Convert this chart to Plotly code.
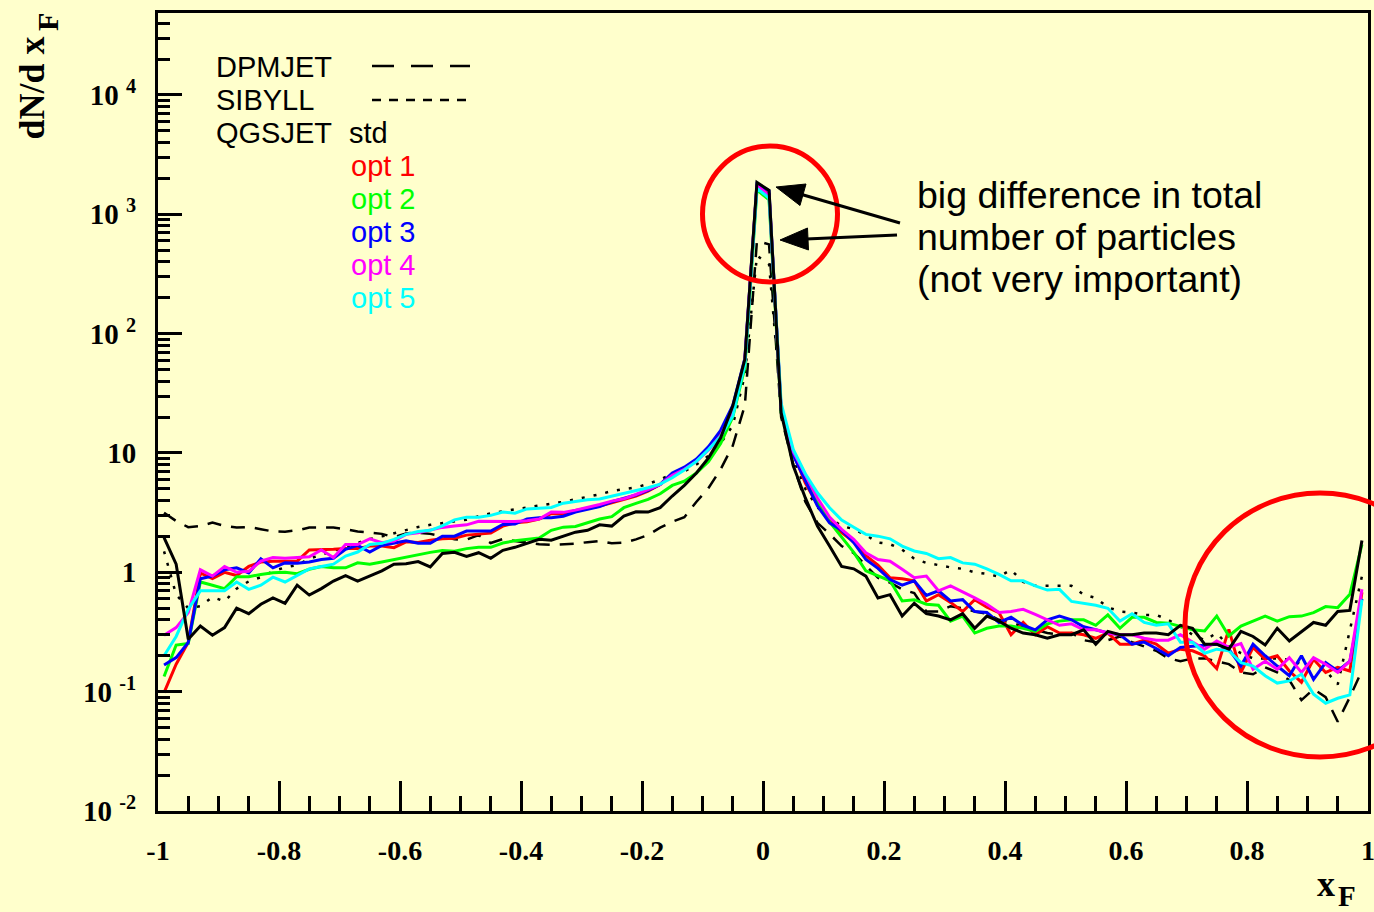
import numpy as np
import plotly.graph_objects as go

# ---------------- data (bin centres of x_F, 100 bins) ----------------
xF = np.round(np.linspace(-0.99, 0.99, 100), 2)

dpmjet = [3.16, 2.69, 2.39, 2.44, 2.61, 2.45, 2.37, 2.40, 2.30, 2.20,
          2.19, 2.25, 2.37, 2.37, 2.37, 2.30, 2.20, 2.15, 2.10, 1.97,
          2.12, 2.15, 2.10, 2.0, 1.89, 1.88, 2.05, 1.76, 1.9, 1.83,
          1.77, 1.72, 1.70, 1.71, 1.74, 1.79, 1.83, 1.75, 1.77, 1.89,
          2.05, 2.37, 2.65, 2.9, 3.9, 5.1, 7.3, 11.5, 25, 600,
          560, 20, 8.0, 3.9, 2.6, 2.1, 1.66, 1.45, 1.15, 0.90,
          0.82, 0.72, 0.67, 0.47, 0.47, 0.52, 0.50, 0.47, 0.45, 0.40,
          0.38, 0.35, 0.33, 0.31, 0.30, 0.31, 0.27, 0.26, 0.27, 0.29,
          0.26, 0.24, 0.22, 0.19, 0.18, 0.19, 0.19, 0.18, 0.17, 0.145,
          0.14, 0.16, 0.145, 0.125, 0.085, 0.105, 0.09, 0.056, 0.09, 0.15]

sibyll = [1.5, 0.65, 0.50, 0.52, 0.62, 0.57, 0.73, 0.84, 0.91, 1.02,
          1.10, 1.15, 1.3, 1.4, 1.5, 1.62, 1.75, 1.9, 2.0, 2.12,
          2.25, 2.4, 2.5, 2.58, 2.66, 2.76, 2.95, 3.12, 3.25, 3.37,
          3.52, 3.62, 3.75, 3.9, 4.1, 4.3, 4.5, 4.8, 5.0, 5.15,
          5.5, 6.0, 6.7, 7.0, 8.0, 9.5, 12, 17, 45, 450,
          380, 25, 9, 5.0, 3.5, 2.85, 2.45, 2.3, 2.05, 1.78,
          1.72, 1.55, 1.3, 1.2, 1.15, 1.1, 1.07, 1.0, 0.97, 0.92,
          1.05, 0.83, 0.77, 0.77, 0.77, 0.77, 0.65, 0.61, 0.51, 0.47,
          0.46, 0.44, 0.44, 0.40, 0.35, 0.30, 0.27, 0.31, 0.24, 0.21,
          0.19, 0.19, 0.19, 0.185, 0.17, 0.16, 0.15, 0.115, 0.32, 0.93]

qgs_std = [1.95, 1.17, 0.275, 0.355, 0.297, 0.344, 0.50, 0.45, 0.54, 0.61,
           0.55, 0.78, 0.645, 0.73, 0.845, 0.94, 0.845, 0.94, 1.03, 1.17,
           1.18, 1.23, 1.11, 1.44, 1.47, 1.36, 1.46, 1.31, 1.53, 1.62,
           1.76, 1.89, 1.86, 2.01, 2.17, 2.25, 2.5, 2.44, 2.96, 3.22,
           3.2, 3.48, 4.36, 5.35, 6.8, 9.1, 13.4, 24.7, 61, 1850,
           1590, 21.7, 7.8, 4.2, 2.44, 1.66, 1.12, 1.07, 0.93, 0.61,
           0.65, 0.43, 0.55, 0.45, 0.43, 0.40, 0.45, 0.34, 0.43, 0.39,
           0.34, 0.31, 0.30, 0.28, 0.30, 0.30, 0.33, 0.25, 0.32, 0.30,
           0.30, 0.31, 0.31, 0.30, 0.36, 0.34, 0.25, 0.25, 0.227, 0.32,
           0.29, 0.246, 0.34, 0.266, 0.32, 0.38, 0.36, 0.47, 0.48, 1.85]

qgs_opt1 = [0.098, 0.17, 0.26, 0.99, 0.885, 1.0, 0.94, 1.12, 1.22, 1.24,
            1.24, 1.24, 1.54, 1.54, 1.56, 1.58, 1.58, 1.66, 1.66, 1.61,
            1.80, 1.78, 1.86, 1.91, 1.93, 2.05, 2.1, 2.13, 2.44, 2.6,
            2.65, 2.8, 3.1, 3.1, 3.3, 3.45, 3.6, 3.83, 4.08, 4.35,
            4.79, 5.45, 6.6, 7.4, 8.6, 10.8, 14.5, 23, 58, 1750,
            1480, 23, 10.0, 5.6, 3.7, 2.7, 2.15, 1.8, 1.38, 1.15,
            0.9, 0.885, 0.85, 0.575, 0.65, 0.56, 0.47, 0.59, 0.51, 0.46,
            0.30, 0.38, 0.30, 0.35, 0.31, 0.31, 0.30, 0.28, 0.31, 0.25,
            0.25, 0.27, 0.25, 0.21, 0.227, 0.22, 0.20, 0.156, 0.333, 0.145,
            0.235, 0.187, 0.20, 0.149, 0.12, 0.187, 0.145, 0.16, 0.149, 0.68]

qgs_opt2 = [0.134, 0.246, 0.253, 0.83, 0.78, 0.73, 0.92, 0.92, 0.96, 0.99,
            1.0, 0.975, 1.06, 1.12, 1.09, 1.09, 1.20, 1.17, 1.22, 1.28,
            1.35, 1.40, 1.47, 1.52, 1.5, 1.58, 1.62, 1.62, 1.76, 1.84,
            1.9, 1.94, 2.25, 2.39, 2.42, 2.61, 2.8, 2.93, 3.48, 3.78,
            4.08, 4.55, 5.35, 5.8, 6.8, 8.5, 12, 20, 52, 1600,
            1320, 22, 10, 6.0, 3.9, 2.65, 1.98, 1.47, 1.03, 0.93,
            0.85, 0.575, 0.59, 0.54, 0.53, 0.39, 0.43, 0.31, 0.34, 0.355,
            0.355, 0.34, 0.32, 0.37, 0.39, 0.40, 0.40, 0.36, 0.44, 0.34,
            0.42, 0.42, 0.38, 0.375, 0.35, 0.33, 0.323, 0.43, 0.293, 0.355,
            0.39, 0.43, 0.39, 0.425, 0.43, 0.46, 0.516, 0.506, 0.655, 1.71]

qgs_opt3 = [0.167, 0.193, 0.258, 0.885, 0.93, 1.05, 1.09, 0.99, 1.30, 1.09,
            1.20, 1.19, 1.22, 1.28, 1.31, 1.56, 1.68, 1.48, 1.68, 1.77,
            1.84, 1.75, 1.75, 2.01, 2.01, 2.22, 2.22, 2.22, 2.52, 2.54,
            2.8, 2.87, 2.87, 2.95, 3.2, 3.37, 3.55, 3.9, 4.15, 4.45,
            4.85, 5.45, 6.8, 7.6, 8.9, 11.3, 15.5, 25, 62, 1800,
            1580, 23, 9.6, 5.8, 3.6, 2.6, 2.25, 1.77, 1.28, 1.08,
            0.87, 0.78, 0.85, 0.64, 0.70, 0.575, 0.59, 0.47, 0.46, 0.38,
            0.42, 0.36, 0.33, 0.40, 0.43, 0.40, 0.35, 0.33, 0.31, 0.30,
            0.25, 0.26, 0.23, 0.20, 0.235, 0.24, 0.245, 0.25, 0.227, 0.164,
            0.25, 0.20, 0.164, 0.136, 0.20, 0.127, 0.175, 0.149, 0.18, 0.6]

qgs_opt4 = [0.297, 0.344, 0.46, 1.05, 0.93, 1.12, 1.0, 1.02, 1.24, 1.33,
            1.31, 1.33, 1.35, 1.54, 1.33, 1.71, 1.71, 1.91, 1.77, 1.83,
            2.08, 2.15, 2.25, 2.38, 2.44, 2.5, 2.68, 2.68, 2.66, 2.66,
            2.7, 2.8, 3.2, 3.18, 3.32, 3.48, 3.7, 3.95, 4.13, 4.49,
            4.95, 5.45, 6.5, 7.3, 8.5, 10.6, 14, 22, 60, 1750,
            1430, 24, 10.3, 6.6, 4.2, 2.9, 2.29, 1.89, 1.46, 1.28,
            1.24, 1.06, 0.90, 0.93, 0.70, 0.77, 0.68, 0.61, 0.54, 0.46,
            0.47, 0.49, 0.445, 0.40, 0.36, 0.37, 0.33, 0.33, 0.31, 0.30,
            0.30, 0.28, 0.27, 0.27, 0.30, 0.26, 0.227, 0.266, 0.235, 0.253,
            0.154, 0.18, 0.154, 0.193, 0.145, 0.193, 0.17, 0.145, 0.18, 0.72]

qgs_opt5 = [0.20, 0.29, 0.49, 0.70, 0.70, 0.70, 0.83, 0.72, 0.78, 0.91,
            0.83, 0.94, 1.07, 1.12, 1.17, 1.37, 1.48, 1.71, 1.75, 1.89,
            2.08, 2.2, 2.25, 2.45, 2.75, 2.9, 2.9, 3.0, 3.2, 3.13,
            3.4, 3.45, 3.5, 3.8, 3.95, 4.06, 4.12, 4.35, 4.58, 4.83,
            5.12, 5.48, 6.2, 7.2, 8.5, 10.7, 13.8, 20.3, 55, 1650,
            1370, 26, 10.7, 6.7, 4.64, 3.48, 2.74, 2.39, 2.08, 2.01,
            1.91, 1.66, 1.51, 1.44, 1.30, 1.33, 1.20, 1.17, 1.07, 0.96,
            0.85, 0.85, 0.77, 0.71, 0.72, 0.57, 0.55, 0.53, 0.50, 0.39,
            0.45, 0.38, 0.36, 0.37, 0.26, 0.26, 0.21, 0.227, 0.22, 0.175,
            0.164, 0.136, 0.118, 0.123, 0.14, 0.095, 0.080, 0.088, 0.094, 0.59]

x_tickvals = [-1, -0.8, -0.6, -0.4, -0.2, 0, 0.2, 0.4, 0.6, 0.8, 1]
x_ticktext = ["-1", "-0.8", "-0.6", "-0.4", "-0.2", "0", "0.2", "0.4", "0.6", "0.8", "1"]
y_tickvals = [0.01, 0.1, 1, 10, 100, 1000, 10000]
y_ticktext = ["10 <sup>-2</sup>", "10 <sup>-1</sup>", "1", "10",
              "10 <sup>2</sup>", "10 <sup>3</sup>", "10 <sup>4</sup>"]

legend_labels = ["opt 1", "opt 2", "opt 3", "opt 4", "opt 5"]
note_lines = ["big difference in total", "number of particles", "(not very important)"]

# ---------------- styling ----------------
BG = "#FFFFCC"
W, H = 1374, 912
ML, MR, MT, MB = 158, 6, 13, 101
PW, PH = W - ML - MR, H - MT - MB
SANS = "Liberation Sans, Arial, sans-serif"
SERIF = "Liberation Serif, Times New Roman, serif"
opt_colors = ["#FF0000", "#00FF00", "#0000FF", "#FF00FF", "#00FFFF"]


def px(x):
    return (x - ML) / PW


def py(y):
    return (H - MB - y) / PH


fig = go.Figure()
fig.add_trace(go.Scatter(x=xF, y=dpmjet, mode="lines", name="DPMJET",
                         line=dict(color="black", width=2.5, dash="14px,10px")))
fig.add_trace(go.Scatter(x=xF, y=sibyll, mode="lines", name="SIBYLL",
                         line=dict(color="black", width=2.5, dash="3px,9px")))
for series, col, lab in zip([qgs_opt1, qgs_opt2, qgs_opt3, qgs_opt4, qgs_opt5],
                            opt_colors, legend_labels):
    fig.add_trace(go.Scatter(x=xF, y=series, mode="lines", name="QGSJET " + lab,
                             line=dict(color=col, width=3)))
fig.add_trace(go.Scatter(x=xF, y=qgs_std, mode="lines", name="QGSJET std",
                         line=dict(color="black", width=3)))

# minor ticks
y_minor = [m * 10 ** e for e in range(-2, 5) for m in range(2, 10) if m * 10 ** e < 4.8e4]
x_minor = [round(-1 + 0.05 * k, 2) for k in range(41) if k % 4 != 0]

fig.update_xaxes(range=[-1, 1], tickvals=x_tickvals, ticktext=x_ticktext,
                 ticks="inside", ticklen=30, tickwidth=2.5, tickcolor="black",
                 showline=True, linecolor="black", linewidth=3, mirror=True,
                 showgrid=False, zeroline=False, automargin=False,
                 ticklabelstandoff=12, ticklabeloverflow="allow",
                 tickfont=dict(family=SERIF, size=28, color="black", weight="bold"),
                 minor=dict(tickvals=x_minor, ticks="inside", ticklen=15,
                            tickwidth=2.5, tickcolor="black", showgrid=False))
fig.update_yaxes(type="log", range=[-2, 4.687], tickvals=y_tickvals, ticktext=y_ticktext,
                 ticks="inside", ticklen=24, tickwidth=2.5, tickcolor="black",
                 showline=True, linecolor="black", linewidth=3, mirror=True,
                 showgrid=False, zeroline=False, automargin=False,
                 ticklabelstandoff=13, ticklabeloverflow="allow",
                 tickfont=dict(family=SERIF, size=29, color="black", weight="bold"),
                 minor=dict(tickvals=y_minor, ticks="inside", ticklen=12,
                            tickwidth=2.5, tickcolor="black", showgrid=False))

shapes = []
# red circles
shapes.append(dict(type="circle", xref="paper", yref="paper", layer="above",
                   x0=px(702.5), x1=px(837.5), y0=py(282), y1=py(146),
                   line=dict(color="#FF0000", width=5)))
shapes.append(dict(type="circle", xref="paper", yref="paper", layer="above",
                   x0=px(1185), x1=px(1455), y0=py(757), y1=py(493),
                   line=dict(color="#FF0000", width=5)))
# arrows (shafts + heads)
shapes.append(dict(type="line", xref="paper", yref="paper", layer="above",
                   x0=px(900), y0=py(223), x1=px(800), y1=py(194),
                   line=dict(color="black", width=3)))
shapes.append(dict(type="line", xref="paper", yref="paper", layer="above",
                   x0=px(897), y0=py(235), x1=px(806), y1=py(239),
                   line=dict(color="black", width=3)))


def tri(pts):
    s = "M {:.5f} {:.5f}".format(px(pts[0][0]), py(pts[0][1]))
    for p in pts[1:]:
        s += " L {:.5f} {:.5f}".format(px(p[0]), py(p[1]))
    return s + " Z"


shapes.append(dict(type="path", xref="paper", yref="paper", layer="above",
                   path=tri([(776, 187), (800, 205.5), (806, 184)]),
                   fillcolor="black", line=dict(color="black", width=1)))
shapes.append(dict(type="path", xref="paper", yref="paper", layer="above",
                   path=tri([(780, 240), (808.5, 250), (807.5, 228)]),
                   fillcolor="black", line=dict(color="black", width=1)))
# legend line samples
shapes.append(dict(type="line", xref="paper", yref="paper", layer="above",
                   x0=px(372), y0=py(66), x1=px(470), y1=py(66),
                   line=dict(color="black", width=2.5, dash="22px,17px")))
shapes.append(dict(type="line", xref="paper", yref="paper", layer="above",
                   x0=px(372), y0=py(100), x1=px(466), y1=py(100),
                   line=dict(color="black", width=2.5, dash="9px,8px")))

ann = []


def text(t, x, y, size, color="black", family=SANS, xanchor="left", angle=0, weight="normal"):
    ann.append(dict(text=t, x=px(x), y=py(y), xref="paper", yref="paper",
                    xanchor=xanchor, yanchor="middle", showarrow=False, textangle=angle,
                    font=dict(family=family, size=size, color=color, weight=weight)))


text("DPMJET", 214, 67, 29)
text("SIBYLL", 214, 100, 29)
text("QGSJET", 214, 133, 29)
text("std", 347, 133, 29)
for k, (lab, col) in enumerate(zip(legend_labels, opt_colors)):
    text(lab, 349, 166 + 33 * k, 29, color=col)
for k, line in enumerate(note_lines):
    text(line, 915, 195 + 42 * k, 37.5)

# axis titles
text("dN/d x", 31.5, 88, 36, family=SERIF, xanchor="center", angle=-90, weight="bold")
text("F", 48, 22, 30, family=SERIF, xanchor="center", angle=-90, weight="bold")
text("x", 1326, 884, 36, family=SERIF, xanchor="center", weight="bold")
text("F", 1347, 896, 29, family=SERIF, xanchor="center", weight="bold")

fig.update_layout(width=W, height=H, margin=dict(l=ML, r=MR, t=MT, b=MB),
                  paper_bgcolor=BG, plot_bgcolor=BG, showlegend=False,
                  shapes=shapes, annotations=ann)

fig.write_html("out.html", config={"displayModeBar": False},
               post_script="document.body.style.margin='0px';"
                           "document.body.style.background='#FFFFCC';"
                           "document.body.style.overflow='hidden';")
